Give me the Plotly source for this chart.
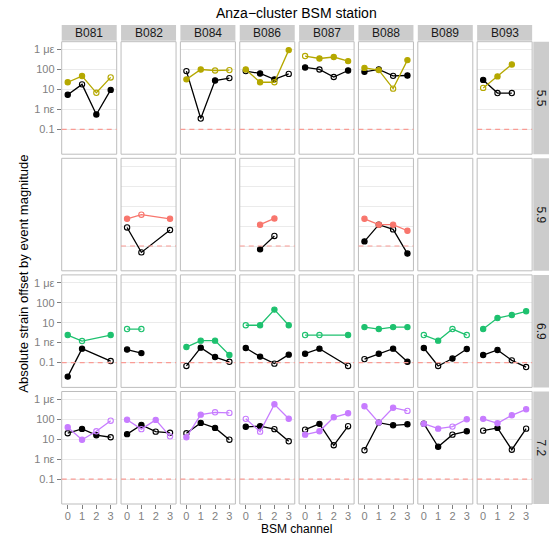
import plotly.graph_objects as go

# ---------------- data ----------------
STATIONS = ["B081", "B082", "B084", "B086", "B087", "B088", "B089", "B093"]
MAGNITUDES = ["5.5", "5.9", "6.9", "7.2"]
CHANNELS = [0, 1, 2, 3]
MAG_COLORS = ["#B5A800", "#F8766D", "#1EC16F", "#C77CFF"]
THRESHOLD = 0.1

Y_TICKVALS = [0.1, 1, 10, 100, 1000]
Y_TICKTEXT = ["0.1", "1 nε", "10", "100", "1 με"]

# strain offsets (nε); None = no data
BLACK_55 = [[5.4, 18, 0.56, 9.5], None, [83, 0.35, 28, 37], [83, 63, 32, 60],
            [126, 100, 42, 89], [76, 100, 48, 50], None, [30, 6.6, 6.6, None]]
BLACK_55_FILLED = [[1, 0, 1, 1], None, [0, 0, 1, 0], [0, 1, 1, 0],
                   [1, 0, 0, 1], [1, 1, 0, 1], None, [1, 0, 0, 0]]
COLOR_55 = [[23, 47, 6.8, 40], None, [32, 100, 89, 93], [100, 23, 23, 930],
            [470, 355, 420, 263], [120, 93, 11, 295], None, [12, 45, 178, None]]
COLOR_55_FILLED = [[1, 1, 0, 0], None, [1, 1, 0, 0], [1, 1, 0, 1],
                   [0, 1, 1, 1], [1, 1, 0, 1], None, [0, 1, 1, 0]]

BLACK_59 = [None, [0.85, 0.048, None, 0.63], None, [None, 0.068, 0.32, None],
            None, [0.17, 1.17, 0.68, 0.042], None, None]
BLACK_59_FILLED = [None, [0, 0, 0, 0], None, [0, 1, 0, 0],
                   None, [1, 1, 0, 1], None, None]
COLOR_59 = [None, [2.3, 3.7, None, 2.3], None, [None, 1.17, 2.4, None],
            None, [2.3, 1.17, 1.17, 0.58], None, None]
COLOR_59_FILLED = [None, [1, 0, 0, 1], None, [0, 1, 1, 0],
                   None, [1, 1, 1, 1], None, None]

BLACK_69 = [[0.02, 0.5, None, 0.12], [0.45, 0.3, None, None], [0.068, 0.56, 0.19, 0.11],
            [0.54, 0.2, 0.089, 0.25], [0.28, 0.5, None, 0.068], [0.15, 0.28, 0.5, 0.11],
            [0.54, 0.068, 0.16, 0.48], [0.24, 0.43, 0.13, 0.06]]
BLACK_69_FILLED = [[1, 1, 0, 0], [1, 1, 0, 0], [0, 1, 1, 0], [1, 1, 0, 1],
                   [1, 1, 0, 0], [0, 1, 1, 1], [1, 0, 1, 1], [1, 1, 0, 0]]
COLOR_69 = [[2.4, 1.2, None, 2.4], [4.8, 4.8, None, None], [0.6, 1.26, 1.26, 0.24],
            [7.4, 7.4, 45, 7.4], [2.4, 2.4, None, 2.4], [6.0, 4.8, 6.0, 6.0],
            [2.4, 1.26, 4.8, 2.4], [4.8, 17, 24, 37]]
COLOR_69_FILLED = [[1, 0, 0, 1], [0, 0, 0, 0], [1, 1, 1, 1], [0, 1, 1, 1],
                   [0, 0, 0, 1], [1, 1, 1, 1], [0, 1, 0, 0], [1, 1, 1, 1]]

BLACK_72 = [[20, 33, 16, 12.6], [18, 52, 24, 21], [20, 66, 37, 9.5], [42, 45, 32, 7.9],
            [30, 59, 5.0, 45], [2.8, 68, 50, 56], [60, 4.2, 17, 25], [27, 37, 3.0, 34]]
BLACK_72_FILLED = [[0, 1, 1, 0], [1, 1, 0, 0], [0, 1, 1, 0], [1, 1, 0, 0],
                   [0, 1, 0, 0], [0, 0, 1, 1], [1, 1, 0, 1], [0, 1, 0, 0]]
COLOR_72 = [[40, 9.5, 25, 85], [95, 32, 93, 14], [12.6, 170, 224, 209], [105, 24, 562, 107],
            [17, 25, 126, 200], [447, 68, 380, 263], [60, 34, 43, 100], [105, 63, 158, 316]]
COLOR_72_FILLED = [[1, 1, 0, 0], [1, 0, 1, 0], [1, 1, 0, 0], [0, 0, 1, 1],
                   [1, 1, 1, 1], [1, 1, 1, 0], [1, 1, 0, 1], [1, 1, 1, 1]]

BLACK = [BLACK_55, BLACK_59, BLACK_69, BLACK_72]
BLACK_FILLED = [BLACK_55_FILLED, BLACK_59_FILLED, BLACK_69_FILLED, BLACK_72_FILLED]
COLORED = [COLOR_55, COLOR_59, COLOR_69, COLOR_72]
COLORED_FILLED = [COLOR_55_FILLED, COLOR_59_FILLED, COLOR_69_FILLED, COLOR_72_FILLED]

# ---------------- layout geometry ----------------
W, H = 555, 535
COL_LEFT0, COL_PITCH, COL_W = 61.7, 59.35, 55.0
ROW_TOP0, ROW_PITCH, ROW_H = 41.7, 116.6, 112.5
STRIP_TOP, STRIP_BOT = 25.0, 40.7
RSTRIP_L, RSTRIP_R = 533.3, 549.0

FONT = "Liberation Sans, Arial, Helvetica, sans-serif"
GRAY_TXT = "#7f7f7f"
BORDER = "#bdbdbd"
GRID = "#ebebeb"
STRIP_FILL = "#cccccc"

fig = go.Figure()
shapes = []
annotations = []


def ax_id(k):
    return "" if k == 1 else str(k)


def add_series(k, vals, filled, color):
    xs, ys, syms = [], [], []
    for c, v, f in zip(CHANNELS, vals, filled):
        if v is None:
            continue
        xs.append(c)
        ys.append(v)
        syms.append("circle" if f else "circle-open")
    fig.add_trace(go.Scatter(
        x=xs, y=ys, mode="lines+markers",
        xaxis="x" + ax_id(k), yaxis="y" + ax_id(k),
        line=dict(color=color, width=1.3),
        marker=dict(symbol=syms, size=5.3, color=color,
                    line=dict(color=color, width=1.1)),
        showlegend=False, hoverinfo="x+y"))


for j, mag in enumerate(MAGNITUDES):
    ytop = ROW_TOP0 + j * ROW_PITCH
    ybot = ytop + ROW_H
    for i, st in enumerate(STATIONS):
        k = j * len(STATIONS) + i + 1
        a = ax_id(k)
        xl = COL_LEFT0 + i * COL_PITCH
        xr = xl + COL_W
        b = BLACK[j][i]
        c = COLORED[j][i]
        has = (b is not None) or (c is not None)
        last_row = (j == len(MAGNITUDES) - 1)

        xa = dict(domain=[xl / W, xr / W], anchor="y" + a,
                  range=[-0.42, 3.42], showgrid=False, zeroline=False,
                  showline=False,
                  tickvals=CHANNELS, ticktext=[str(v) for v in CHANNELS],
                  showticklabels=last_row,
                  ticks="outside" if last_row else "",
                  ticklen=4, tickcolor=GRAY_TXT, tickwidth=1,
                  ticklabelstandoff=-2,
                  tickfont=dict(size=11, color=GRAY_TXT, family=FONT))
        ya = dict(domain=[1 - ybot / H, 1 - ytop / H], anchor="x" + a,
                  type="log", range=[-2.24, 3.39], showgrid=has,
                  gridcolor=GRID, gridwidth=1.2, zeroline=False,
                  showline=False,
                  tickvals=Y_TICKVALS, ticktext=Y_TICKTEXT,
                  showticklabels=(i == 0),
                  ticks="outside" if i == 0 else "",
                  ticklen=4, tickcolor=GRAY_TXT, tickwidth=1,
                  tickfont=dict(size=11, color=GRAY_TXT, family=FONT))
        fig.layout["xaxis" + a] = xa
        fig.layout["yaxis" + a] = ya

        # panel border
        shapes.append(dict(type="rect", xref="paper", yref="paper",
                           x0=xl / W, x1=xr / W, y0=1 - ybot / H, y1=1 - ytop / H,
                           line=dict(color=BORDER, width=1),
                           layer="above"))

        if has:
            shapes.append(dict(type="line", xref="x" + a + " domain", yref="y" + a,
                               x0=0, x1=1, y0=THRESHOLD, y1=THRESHOLD,
                               line=dict(color="#f99c95", width=1.2,
                                         dash="5px,4px"),
                               layer="above"))
        if b is not None:
            add_series(k, b, BLACK_FILLED[j][i], "black")
        if c is not None:
            add_series(k, c, COLORED_FILLED[j][i], MAG_COLORS[j])

        # top strips
        if j == 0:
            shapes.append(dict(type="rect", xref="paper", yref="paper",
                               x0=xl / W, x1=xr / W,
                               y0=1 - STRIP_BOT / H, y1=1 - STRIP_TOP / H,
                               fillcolor=STRIP_FILL, line=dict(width=0)))
            annotations.append(dict(text=st, xref="paper", yref="paper",
                                    x=(xl + xr) / 2 / W,
                                    y=1 - (STRIP_TOP + STRIP_BOT) / 2 / H,
                                    showarrow=False, xanchor="center", yanchor="middle",
                                    font=dict(size=12, color="#1a1a1a", family=FONT)))
    # right strips
    shapes.append(dict(type="rect", xref="paper", yref="paper",
                       x0=RSTRIP_L / W, x1=RSTRIP_R / W,
                       y0=1 - ybot / H, y1=1 - ytop / H,
                       fillcolor=STRIP_FILL, line=dict(width=0)))
    annotations.append(dict(text=mag, xref="paper", yref="paper",
                            x=(RSTRIP_L + RSTRIP_R) / 2 / W,
                            y=1 - (ytop + ybot) / 2 / H,
                            showarrow=False, textangle=90,
                            xanchor="center", yanchor="middle",
                            font=dict(size=12, color="#1a1a1a", family=FONT)))

plot_cx = (COL_LEFT0 + (COL_LEFT0 + 7 * COL_PITCH + COL_W)) / 2 / W
annotations.append(dict(text="Anza\u2212cluster BSM station", xref="paper", yref="paper",
                        x=plot_cx, y=1 - 13 / H, showarrow=False,
                        xanchor="center", yanchor="middle",
                        font=dict(size=14, color="black", family=FONT)))
annotations.append(dict(text="BSM channel", xref="paper", yref="paper",
                        x=plot_cx, y=1 - 529 / H, showarrow=False,
                        xanchor="center", yanchor="middle",
                        font=dict(size=12, color="black", family=FONT)))
annotations.append(dict(text="Absolute strain offset by event magnitude",
                        xref="paper", yref="paper",
                        x=24 / W, y=1 - 273.7 / H, showarrow=False, textangle=-90,
                        xanchor="center", yanchor="middle",
                        font=dict(size=13, color="black", family=FONT)))

fig.update_layout(width=W, height=H, margin=dict(l=0, r=0, t=0, b=0),
                  paper_bgcolor="white", plot_bgcolor="white",
                  shapes=shapes, annotations=annotations, showlegend=False)

fig.write_html("out.html")
